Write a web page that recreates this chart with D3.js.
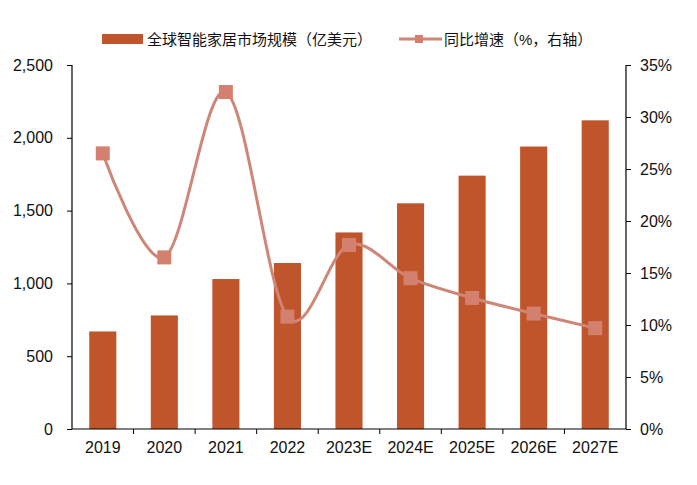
<!DOCTYPE html>
<html>
<head>
<meta charset="utf-8">
<script src="https://cdn.jsdelivr.net/npm/d3@7"></script>
<style>
  html, body { margin: 0; padding: 0; background: #fff; }
  svg { display: block; }
  text { font-family: "Liberation Sans", Arial, "Noto Sans CJK SC", sans-serif; fill: #111; }
</style>
</head>
<body>
<svg id="chart" width="697" height="485"></svg>
<script>
// chart data
var years = ["2019", "2020", "2021", "2022", "2023E", "2024E", "2025E", "2026E", "2027E"];
var marketSize = [670, 780, 1030, 1140, 1350, 1550, 1740, 1940, 2120];
var growthRate = [26.5, 16.5, 32.4, 10.8, 17.7, 14.5, 12.6, 11.1, 9.7];
var leftTicks = [0, 500, 1000, 1500, 2000, 2500];
var rightTicks = [0, 5, 10, 15, 20, 25, 30, 35];
var barName = "全球智能家居市场规模（亿美元）";
var lineName = "同比增速（%，右轴）";

var barColor = "#C0552B",
    lineColor = "#CD8678",
    markColor = "#D4806F";

var svg = d3.select("#chart");
var pLeft = 72, pRight = 626, pTop = 65, pBottom = 429;

var x = d3.scaleBand().domain(years).range([pLeft, pRight]).paddingInner(0.56).paddingOuter(0.28);
var xb = d3.scaleBand().domain(years).range([pLeft, pRight]);
var y = d3.scaleLinear().domain([0, 2500]).range([pBottom, pTop]);
var y2 = d3.scaleLinear().domain([0, 35]).range([pBottom, pTop]);

// bars
svg.append("g").selectAll("rect").data(marketSize).enter().append("rect")
  .attr("x", function(d, i) { return x(years[i]); })
  .attr("y", function(d) { return y(d); })
  .attr("width", x.bandwidth())
  .attr("height", function(d) { return y(0) - y(d); })
  .attr("fill", barColor);

// left axis
var gl = svg.append("g").attr("transform", "translate(" + pLeft + ",0)")
  .call(d3.axisLeft(y).tickValues(leftTicks).tickSize(5).tickPadding(14).tickFormat(d3.format(",")));
// right axis
var gr = svg.append("g").attr("transform", "translate(" + pRight + ",0)")
  .call(d3.axisRight(y2).tickValues(rightTicks).tickSize(5).tickPadding(9).tickFormat(function(d) { return d + "%"; }));
// bottom axis, ticks at category boundaries
var gb = svg.append("g").attr("transform", "translate(0," + pBottom + ")")
  .call(d3.axisBottom(xb).tickSize(0).tickPadding(13));
gb.selectAll(".tickmark").data(years.slice(1)).enter().append("line")
  .attr("x1", function(d) { return xb(d); }).attr("x2", function(d) { return xb(d); })
  .attr("y1", 0).attr("y2", 5).attr("stroke", "#000");

[gl, gr, gb].forEach(function(g) {
  g.selectAll("path.domain").attr("stroke", "#000").attr("stroke-width", 1.2);
  g.selectAll(".tick line").attr("stroke", "#000");
  g.selectAll("text").style("font-size", "16px").attr("fill", "#111")
    .style("font-family", "'Liberation Sans', Arial, sans-serif");
});
gl.select("path.domain").attr("d", "M0," + pTop + "V" + pBottom);
gr.select("path.domain").attr("d", "M0," + pTop + "V" + pBottom);
gb.select("path.domain").attr("d", "M" + pLeft + ",0H" + pRight);

// growth line
var cx = function(d, i) { return x(years[i]) + x.bandwidth() / 2; };
var line = d3.line().x(cx).y(function(d) { return y2(d); }).curve(d3.curveCardinal.tension(0));
svg.append("path").datum(growthRate).attr("d", line)
  .attr("fill", "none").attr("stroke", lineColor).attr("stroke-width", 3);
svg.append("g").selectAll("rect").data(growthRate).enter().append("rect")
  .attr("x", function(d, i) { return cx(d, i) - 7; })
  .attr("y", function(d) { return y2(d) - 7; })
  .attr("width", 14).attr("height", 14)
  .attr("fill", markColor);

// legend
var lg = svg.append("g");
lg.append("rect").attr("x", 102).attr("y", 34).attr("width", 41).attr("height", 10).attr("fill", barColor);
lg.append("text").attr("x", 147).attr("y", 45).style("font-size", "15px").text(barName);
lg.append("line").attr("x1", 399).attr("x2", 442).attr("y1", 39).attr("y2", 39)
  .attr("stroke", lineColor).attr("stroke-width", 3);
lg.append("rect").attr("x", 415).attr("y", 35).attr("width", 8).attr("height", 8).attr("fill", markColor);
lg.append("text").attr("x", 444).attr("y", 45).style("font-size", "15px").text(lineName);
</script>
</body>
</html>
